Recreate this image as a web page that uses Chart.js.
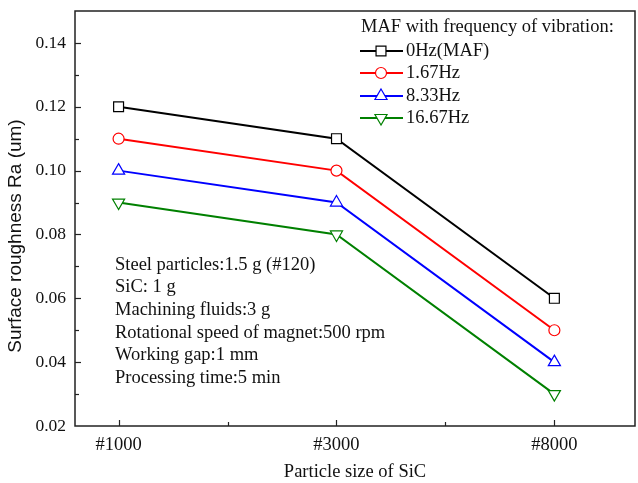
<!DOCTYPE html>
<html>
<head>
<meta charset="utf-8">
<script src="https://cdn.jsdelivr.net/npm/chart.js@4"></script>
<style>
  html, body { margin: 0; padding: 0; background: #fff; }
  #wrap { width: 638px; height: 483px; position: relative; }
</style>
</head>
<body>
<div id="wrap"><canvas id="chart"></canvas></div>
<script>
// categories and series
const categories = ['#1000', '#3000', '#8000'];
const seriesNames = ['0Hz(MAF)', '1.67Hz', '8.33Hz', '16.67Hz'];
const maf0 = [0.12, 0.11, 0.06];
const maf167 = [0.11, 0.10, 0.05];
const maf833 = [0.10, 0.09, 0.04];
const maf1667 = [0.09, 0.08, 0.03];
const yTicks = [0.02, 0.04, 0.06, 0.08, 0.10, 0.12, 0.14];
const yTitle = 'Surface roughness Ra (um)';
const legendTitle = 'MAF with frequency of vibration:';
const notes = [
    'Steel particles:1.5 g (#120)',
    'SiC: 1 g',
    'Machining fluids:3 g',
    'Rotational speed of magnet:500 rpm',
    'Working gap:1 mm',
    'Processing time:5 min'
];

const FONT = '"Liberation Serif", "Times New Roman", serif';
const SANS = '"Liberation Sans", Arial, sans-serif';

function series(label, values, color, style, radius, rotation) {
    return {
        label: label,
        data: values.map((v, i) => ({ x: i, y: v })),
        borderColor: color,
        backgroundColor: '#fff',
        borderWidth: 2,
        pointStyle: style,
        pointRadius: radius,
        pointRotation: rotation || 0,
        pointBorderWidth: 1.2,
        pointBorderColor: color,
        pointBackgroundColor: '#fff',
        tension: 0
    };
}

// frame, inward ticks, y title, legend and note block
const decorPlugin = {
    id: 'decor',
    afterDraw(chart) {
        const ctx = chart.ctx;
        const a = chart.chartArea;
        const xs = chart.scales.x, ys = chart.scales.y;
        ctx.save();
        ctx.strokeStyle = '#222';
        ctx.lineWidth = 1.5;
        ctx.strokeRect(a.left, a.top, a.right - a.left, a.bottom - a.top);

        ctx.lineWidth = 1.2;
        // y ticks (major + minor)
        for (let v = 0.03; v < 0.15; v += 0.01) {
            const major = Math.round(v * 100) % 2 === 0;
            const py = Math.round(ys.getPixelForValue(v)) + 0.5;
            ctx.beginPath();
            ctx.moveTo(a.left, py);
            ctx.lineTo(a.left + (major ? 6 : 4), py);
            ctx.stroke();
        }
        // x ticks
        [0, 0.5, 1, 1.5, 2].forEach(v => {
            const major = v % 1 === 0;
            const px = Math.round(xs.getPixelForValue(v)) + 0.5;
            ctx.beginPath();
            ctx.moveTo(px, a.bottom);
            ctx.lineTo(px, a.bottom - (major ? 6 : 4));
            ctx.stroke();
        });

        // y title (sans in the original)
        ctx.save();
        ctx.translate(16, 236);
        ctx.rotate(-Math.PI / 2);
        ctx.fillStyle = '#111';
        ctx.font = '19px ' + SANS;
        ctx.textAlign = 'center';
        ctx.textBaseline = 'middle';
        ctx.fillText(yTitle, 0, 0);
        ctx.restore();

        // legend
        ctx.fillStyle = '#111';
        ctx.font = '18.5px ' + FONT;
        ctx.textBaseline = 'middle';
        ctx.textAlign = 'left';
        ctx.fillText(legendTitle, 361, 27);
        const rows = [51, 73, 96, 118];
        chart.data.datasets.forEach((ds, i) => {
            const y = rows[i];
            ctx.strokeStyle = ds.borderColor;
            ctx.lineWidth = 2;
            ctx.beginPath();
            ctx.moveTo(360, y);
            ctx.lineTo(403, y);
            ctx.stroke();
            ctx.fillStyle = '#fff';
            ctx.lineWidth = 1.2;
            Chart.helpers.drawPoint(ctx, {
                pointStyle: ds.pointStyle,
                radius: ds.pointRadius,
                rotation: ds.pointRotation,
                borderWidth: 1.2
            }, 381, y);
            ctx.fillStyle = '#111';
            ctx.fillText(ds.label, 406, y);
        });

        // notes
        notes.forEach((t, i) => {
            ctx.fillText(t, 115, 265 + i * 22.6);
        });
        ctx.restore();
    }
};

new Chart(document.getElementById('chart'), {
    type: 'line',
    data: {
        datasets: [
            series(seriesNames[0], maf0, '#000000', 'rect', 7),
            series(seriesNames[1], maf167, '#ff0000', 'circle', 5.5),
            series(seriesNames[2], maf833, '#0000ff', 'triangle', 7),
            series(seriesNames[3], maf1667, '#008000', 'triangle', 7, 180)
        ]
    },
    plugins: [decorPlugin],
    options: {
        responsive: true,
        maintainAspectRatio: false,
        animation: false,
        layout: { autoPadding: false, padding: { top: 11, right: 3, left: 0, bottom: 0 } },
        plugins: { legend: { display: false }, tooltip: { enabled: false } },
        scales: {
            x: {
                type: 'linear',
                min: -0.2,
                max: 2.37,
                afterBuildTicks(s) { s.ticks = categories.map((_, i) => ({ value: i })); },
                afterFit(s) { s.height = 57; s.paddingLeft = 0; s.paddingRight = 0; },
                grid: { display: false, drawTicks: false },
                border: { display: false },
                ticks: {
                    padding: 8,
                    color: '#111',
                    font: { family: FONT, size: 18.5 },
                    callback: v => categories[v]
                },
                title: {
                    display: true,
                    text: 'Particle size of SiC',
                    color: '#111',
                    font: { family: FONT, size: 18.5 },
                    padding: { top: 6, bottom: 0 }
                }
            },
            y: {
                min: 0.02,
                max: 0.15,
                afterBuildTicks(s) { s.ticks = yTicks.map(v => ({ value: v })); },
                afterFit(s) { s.width = 75; s.paddingTop = 0; s.paddingBottom = 0; },
                grid: { display: false, drawTicks: false },
                border: { display: false },
                ticks: {
                    padding: 9,
                    color: '#111',
                    font: { family: FONT, size: 17.5 },
                    callback: v => v.toFixed(2)
                }
            }
        }
    }
});
</script>
</body>
</html>
